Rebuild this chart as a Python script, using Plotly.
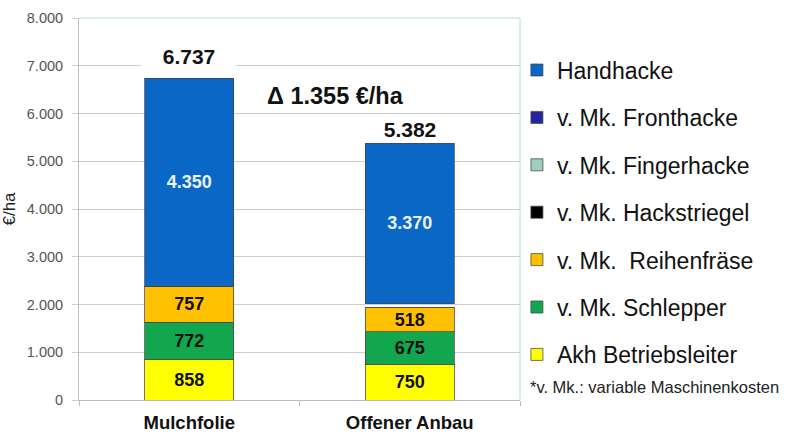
import plotly.graph_objects as go

categories = ["Mulchfolie", "Offener Anbau"]

# series (bottom to top of the stack)
series_names = [
    "Akh Betriebsleiter",
    "v. Mk. Schlepper",
    "v. Mk.  Reihenfräse",
    "v. Mk. Hackstriegel",
    "v. Mk. Fingerhacke",
    "v. Mk. Fronthacke",
    "Handhacke",
]
akh = [858, 750]
schlepper = [772, 675]
reihenfraese = [757, 518]
hackstriegel = [0, 0]
fingerhacke = [0, 69]
fronthacke = [0, 0]
handhacke = [4350, 3370]
series_values = [akh, schlepper, reihenfraese, hackstriegel, fingerhacke, fronthacke, handhacke]

colors = ["#FFFF00", "#12A64E", "#FFC000", "#000000", "#9CCFBE", "#2424A0", "#0A67C6"]
text_colors = ["#111111", "#111111", "#111111", "#111111", "#111111", "#111111", "#EAF3FF"]

y_ticks = [0, 1000, 2000, 3000, 4000, 5000, 6000, 7000, 8000]

def fmt(v):
    return f"{v:,}".replace(",", ".")

fig = go.Figure()
n = len(series_names)
for i, (name, vals, col, tcol) in enumerate(zip(series_names, series_values, colors, text_colors)):
    show_label = [v >= 300 for v in vals]
    point_colors = [col if (v == 0 or v >= 300) else "rgba(255,255,255,0)" for v in vals]
    line_colors = ["rgba(70,70,70,0.75)" if (v == 0 or v >= 300) else "rgba(0,0,0,0)" for v in vals]
    fig.add_trace(go.Bar(
        x=categories, y=vals, name=name,
        marker=dict(color=point_colors, line=dict(color=line_colors, width=1)),
        text=[fmt(v) if s else "" for v, s in zip(vals, show_label)],
        textposition="inside", insidetextanchor="middle", textangle=0,
        insidetextfont=dict(family="Liberation Sans, Arial", size=18, color=tcol),
        texttemplate="<b>%{text}</b>",
        legendgroup=name, legendrank=n - i,
        hoverinfo="skip",
    ))

totals = [sum(s[i] for s in series_values) for i in range(len(categories))]
yshifts = [8, 0]
for cat, tot, ys in zip(categories, totals, yshifts):
    fig.add_annotation(x=cat, y=tot, xref="x", yref="y", text=f"<b>{fmt(tot)}</b>",
                       showarrow=False, yanchor="bottom", yshift=ys, bgcolor="white",
                       width=92, borderpad=1,
                       font=dict(family="Liberation Sans, Arial", size=21, color="#111111"))

delta = totals[0] - totals[1]
fig.add_annotation(x=0.5805, y=(400 - 96) / 382, xref="paper", yref="paper",
                   text=f"<b>Δ {fmt(delta)} €/ha</b>", showarrow=False,
                   xanchor="center", yanchor="middle",
                   font=dict(family="Liberation Sans, Arial", size=23.5, color="#111111"))

fig.add_annotation(x=1.018, y=0.034, xref="paper", yref="paper",
                   text="*v. Mk.: variable Maschinenkosten", showarrow=False,
                   xanchor="left", yanchor="middle",
                   font=dict(family="Liberation Sans, Arial", size=16.5, color="#222222"))

# top and right plot border (light teal)
fig.add_shape(type="line", xref="paper", yref="paper", x0=0, x1=1, y0=1, y1=1,
              line=dict(color="#B7DCDA", width=1))
fig.add_shape(type="line", xref="paper", yref="paper", x0=1, x1=1, y0=0, y1=1,
              line=dict(color="#B7DCDA", width=1))

fig.update_layout(
    width=800, height=439,
    margin=dict(l=79, r=280, t=18, b=39),
    barmode="stack", bargap=0.595,
    plot_bgcolor="white", paper_bgcolor="white",
    separators=",.",
    uniformtext=dict(minsize=17, mode="show"),
    font=dict(family="Liberation Sans, Arial", color="#222222"),
    legend=dict(
        x=0.993, y=0.920, xanchor="left", yanchor="top",
        traceorder="grouped", tracegroupgap=14.5,
        font=dict(family="Liberation Sans, Arial", size=23, color="#111111"),
        bgcolor="rgba(0,0,0,0)", borderwidth=0,
    ),
    xaxis=dict(
        showline=True, linecolor="#BFBFBF", linewidth=1,
        ticks="outside", tickson="boundaries", ticklen=5, tickcolor="#BFBFBF",
        tickfont=dict(family="Liberation Sans, Arial", size=18.5, color="#111111"),
        tickprefix="<b>", ticksuffix="</b>", ticklabelstandoff=6,
        showgrid=False, automargin=False,
    ),
    yaxis=dict(
        range=[0, 8000], tickvals=y_ticks, tickformat=",",
        showgrid=True, gridcolor="#CFCFCF", gridwidth=1,
        showline=True, linecolor="#BFBFBF", linewidth=1,
        ticks="outside", ticklen=6, tickcolor="#CFCFCF",
        tickfont=dict(family="Liberation Sans, Arial", size=14.5, color="#555555"),
        ticklabelstandoff=6, automargin=False,
        title=dict(text="€/ha", font=dict(family="Liberation Sans, Arial", size=17, color="#222222"), standoff=10),
        zeroline=False,
    ),
)

fig.write_html("out.html")
